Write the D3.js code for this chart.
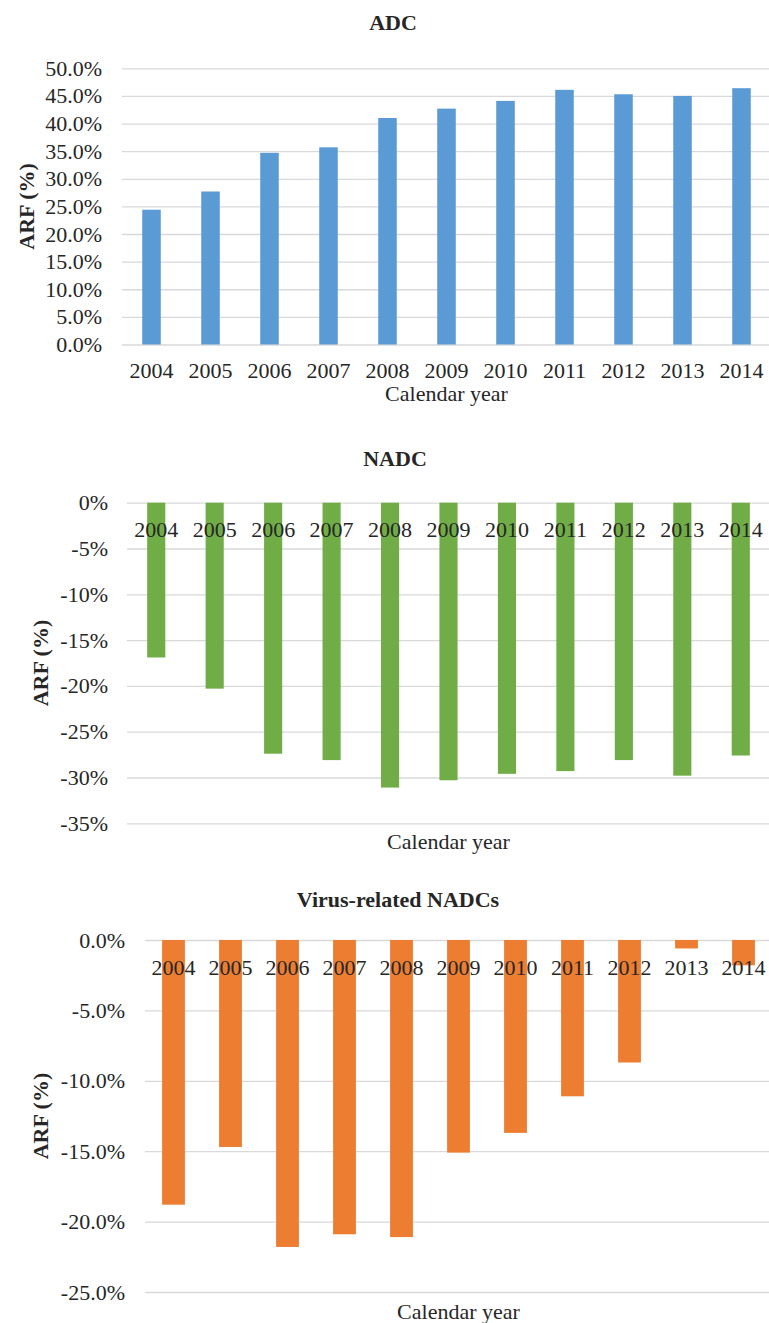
<!DOCTYPE html>
<html>
<head>
<meta charset="utf-8">
<script src="https://cdn.jsdelivr.net/npm/d3@7"></script>
<style>
  body { margin: 0; background: #fff; }
  text { font-family: "Liberation Serif", "Times New Roman", serif; fill: #262626; }
  .grid line { stroke: #d9d9d9; stroke-width: 1.3; }
  .grid .domain { display: none; }
  .years .domain { display: none; }
</style>
</head>
<body>
<div id="chart"></div>
<script>
var years = ["2004", "2005", "2006", "2007", "2008", "2009", "2010", "2011", "2012", "2013", "2014"]

var adcValues = [24.4, 27.7, 34.7, 35.7, 41.0, 42.7, 44.1, 46.1, 45.3, 45.0, 46.4]
var nadcValues = [-16.9, -20.3, -27.4, -28.1, -31.1, -30.3, -29.6, -29.3, -28.1, -29.8, -27.6]
var virusValues = [-18.8, -14.7, -21.8, -20.9, -21.1, -15.1, -13.7, -11.1, -8.7, -0.6, -1.8]

var adcTicks = [0, 5, 10, 15, 20, 25, 30, 35, 40, 45, 50]
var nadcTicks = [0, -5, -10, -15, -20, -25, -30, -35]
var virusTicks = [0, -5, -10, -15, -20, -25]

var svgWidth = 769
var svgHeight = 1323

// plain hyphen for negatives, like the original
var locale = d3.formatLocale({decimal: ".", thousands: ",", grouping: [3], currency: ["", ""], minus: "-"})

var svg = d3.select("#chart").append("svg").attr("width", svgWidth).attr("height", svgHeight)

function drawPanel(opt) {
    var g = svg.append("g")

    var xScale = d3.scaleBand().domain(years)
        .range([opt.left, opt.right])
        .paddingInner(opt.pad).paddingOuter(opt.pad / 2)

    var yScale = d3.scaleLinear().domain(opt.domain).range([opt.bottom, opt.top])

    // gridlines + tick labels
    var leftAxis = d3.axisLeft(yScale).tickValues(opt.ticks)
        .tickSize(-(opt.right - opt.left)).tickPadding(opt.tickPad)
        .tickFormat(d => locale.format(opt.fmt)(d) + "%")

    g.append("g").attr("class", "grid")
        .attr("transform", `translate(${opt.left}, 0)`)
        .call(leftAxis)
        .selectAll("text").attr("font-size", "22px")
        .attr("fill", "#262626")

    g.selectAll("rect.bar").data(opt.values).enter().append("rect")
        .attr("class", "bar")
        .attr("x", (d, i) => xScale(years[i]))
        .attr("width", xScale.bandwidth())
        .attr("y", d => yScale(Math.max(0, d)))
        .attr("height", d => Math.abs(yScale(d) - yScale(0)))
        .attr("fill", opt.color)

    var bottomAxis = d3.axisBottom(xScale).tickSize(0).tickPadding(opt.yearPad)
    g.append("g").attr("class", "years")
        .attr("transform", `translate(0, ${yScale(0)})`)
        .call(bottomAxis)
        .selectAll("text").attr("font-size", "22px").attr("fill", "#262626")

    g.append("text")
        .attr("x", opt.titleX).attr("y", opt.titleY)
        .attr("text-anchor", "middle")
        .attr("font-size", "22px").attr("font-weight", "bold")
        .text(opt.title)

    g.append("text")
        .attr("x", (opt.left + opt.right) / 2).attr("y", opt.xLabelY)
        .attr("text-anchor", "middle")
        .attr("font-size", "22px")
        .text("Calendar year")

    g.append("text")
        .attr("transform", `translate(${opt.yLabelX}, ${(opt.top + opt.bottom) / 2}) rotate(-90)`)
        .attr("text-anchor", "middle")
        .attr("dy", "0.35em")
        .attr("font-size", "22px").attr("font-weight", "bold")
        .text("ARF (%)")
}

drawPanel({
    title: "ADC", values: adcValues, ticks: adcTicks, domain: [0, 50], fmt: ".1f",
    color: "#5b9bd5", left: 122, right: 771, top: 68.3, bottom: 344.5, pad: 0.686,
    tickPad: 20, yearPad: 18, titleX: 393, titleY: 29.5, xLabelY: 401, yLabelX: 26
})

drawPanel({
    title: "NADC", values: nadcValues, ticks: nadcTicks, domain: [-35, 0], fmt: ".0f",
    color: "#70ad47", left: 127, right: 770, top: 502.7, bottom: 823.3, pad: 0.69,
    tickPad: 19, yearPad: 19, titleX: 395, titleY: 466, xLabelY: 849, yLabelX: 40
})

drawPanel({
    title: "Virus-related NADCs", values: virusValues, ticks: virusTicks, domain: [-25, 0], fmt: ".1f",
    color: "#ed7d31", left: 145, right: 772, top: 940, bottom: 1292, pad: 0.6,
    tickPad: 20, yearPad: 19, titleX: 398, titleY: 907, xLabelY: 1319, yLabelX: 40
})
</script>
</body>
</html>
